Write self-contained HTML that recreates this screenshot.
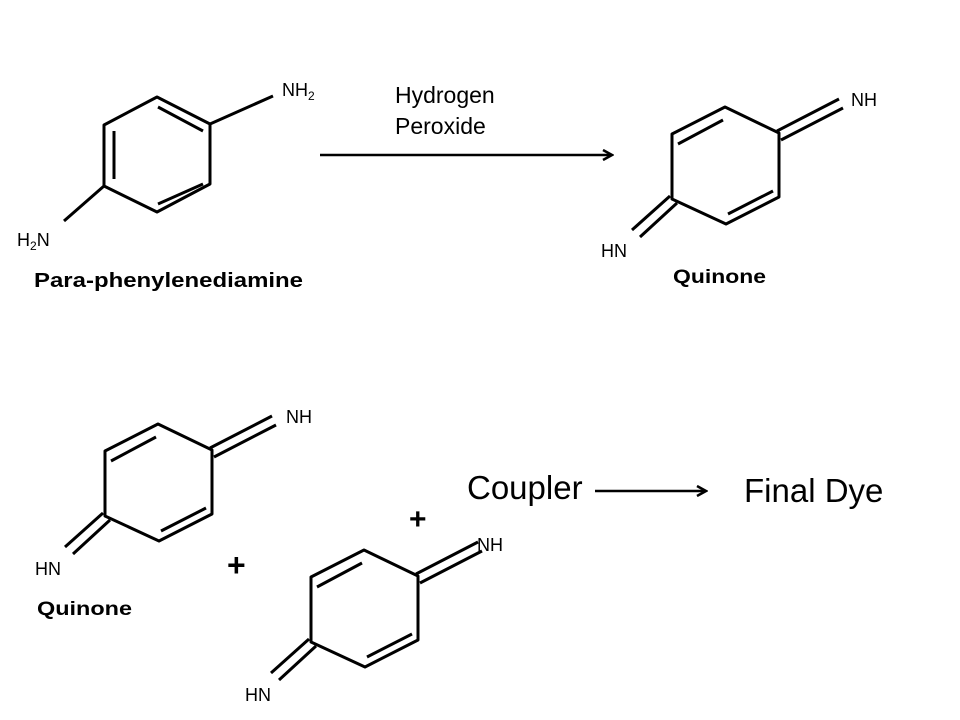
<!DOCTYPE html>
<html><head><meta charset="utf-8"><style>
html,body{margin:0;padding:0;background:#fff;}
svg{display:block;}
text{font-family:"Liberation Sans",sans-serif;fill:#000;}
</style></head><body>
<svg width="960" height="720" viewBox="0 0 960 720" xmlns="http://www.w3.org/2000/svg">
<defs>
<marker id="ah" markerWidth="12" markerHeight="12" refX="10" refY="6" orient="auto" markerUnits="userSpaceOnUse">
<path d="M1,1 L10,6 L1,11" fill="none" stroke="#000" stroke-width="2.5"/>
</marker>
<g id="q" fill="none" stroke="#000" stroke-width="3" stroke-linejoin="round">
<path d="M672,134 L725,107 L779,133 L779,197 L726,224 L672,199 Z"/>
<line x1="678" y1="144" x2="723" y2="120"/>
<line x1="728" y1="214" x2="773" y2="191"/>
<line x1="777" y1="131" x2="839" y2="99"/>
<line x1="781" y1="140" x2="843" y2="108"/>
<line x1="670" y1="196" x2="632" y2="230"/>
<line x1="677" y1="203" x2="640" y2="237"/>
</g>
</defs>
<g fill="none" stroke="#000" stroke-width="3" stroke-linejoin="round">
<path d="M104,125 L157,97 L210,124 L210,184 L157,212 L104,186 Z"/>
<line x1="114" y1="131" x2="114" y2="179"/>
<line x1="158" y1="107" x2="203" y2="131"/>
<line x1="158" y1="204" x2="203" y2="184"/>
<line x1="210" y1="124" x2="273" y2="96"/>
<line x1="104" y1="186" x2="64" y2="221"/>
</g>
<text x="282" y="96" font-size="18">NH<tspan font-size="12" dy="4">2</tspan></text>
<text x="17" y="246" font-size="18">H<tspan font-size="12" dy="4">2</tspan><tspan dy="-4">N</tspan></text>
<text x="34" y="287" font-size="20" font-weight="bold" textLength="269" lengthAdjust="spacingAndGlyphs">Para-phenylenediamine</text>
<line x1="320" y1="155" x2="612" y2="155" stroke="#000" stroke-width="2.5" marker-end="url(#ah)"/>
<text x="395" y="103" font-size="23">Hydrogen</text>
<text x="395" y="134" font-size="23">Peroxide</text>
<use href="#q"/>
<text x="851" y="106" font-size="18">NH</text>
<text x="601" y="257" font-size="18">HN</text>
<text x="673" y="283" font-size="19" font-weight="bold" textLength="93" lengthAdjust="spacingAndGlyphs">Quinone</text>
<use href="#q" transform="translate(-567,317)"/>
<text x="286" y="423" font-size="18">NH</text>
<text x="35" y="575" font-size="18">HN</text>
<text x="37" y="615" font-size="19" font-weight="bold" textLength="95" lengthAdjust="spacingAndGlyphs">Quinone</text>
<text x="227" y="576" font-size="32" font-weight="bold">+</text>
<use href="#q" transform="translate(-361,443)"/>
<text x="477" y="551" font-size="18">NH</text>
<text x="245" y="701" font-size="18">HN</text>
<text x="409" y="529" font-size="30" font-weight="bold">+</text>
<text x="467" y="499" font-size="33">Coupler</text>
<line x1="595" y1="491" x2="706" y2="491" stroke="#000" stroke-width="2.5" marker-end="url(#ah)"/>
<text x="744" y="502" font-size="33">Final Dye</text>
</svg>
</body></html>
